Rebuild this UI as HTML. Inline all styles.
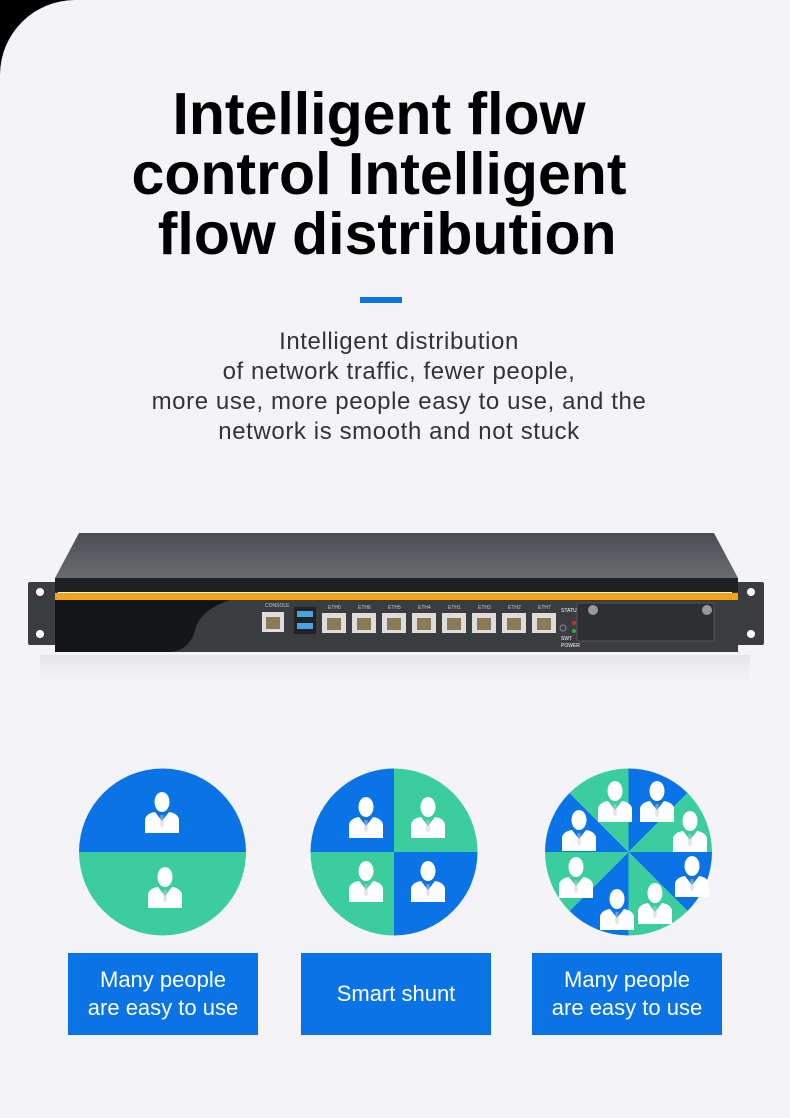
<!DOCTYPE html>
<html><head><meta charset="utf-8"><style>
html,body{margin:0;padding:0;background:#000;}
.page{position:relative;width:790px;height:1118px;background:#f4f4f8;border-top-left-radius:75px;overflow:hidden;font-family:"Liberation Sans",sans-serif;}
.title{position:absolute;left:0;width:758px;top:84px;text-align:center;font-size:59px;font-weight:bold;line-height:60px;color:#000;}
.bar{position:absolute;left:360px;top:297px;width:42px;height:6px;background:#0a74e6;}
.para{position:absolute;left:0;width:798px;top:327px;text-align:center;font-size:24px;letter-spacing:0.6px;line-height:30px;color:#333;}
.btn{position:absolute;top:953px;width:190px;height:82px;background:#0a74e6;color:#fff;font-size:22px;line-height:28px;display:flex;align-items:center;justify-content:center;text-align:center;}
</style></head><body><div class="page">
<div class="title">Intelligent flow<br>control Intelligent<br>&nbsp;flow distribution</div>
<div class="bar"></div>
<div class="para">Intelligent distribution<br>of network traffic, fewer people,<br>more use, more people easy to use, and the<br>network is smooth and not stuck</div>

<svg width="790" height="1118" style="position:absolute;left:0;top:0">
<defs>
<linearGradient id="top" x1="0" y1="0" x2="0" y2="1"><stop offset="0" stop-color="#4a4d52"/><stop offset="1" stop-color="#6a6d70"/></linearGradient>
<linearGradient id="refl" x1="0" y1="0" x2="0" y2="1"><stop offset="0" stop-color="#d4d4d8" stop-opacity="0.5"/><stop offset="1" stop-color="#f4f4f8" stop-opacity="0"/></linearGradient>
<g id="p"><ellipse cx="17" cy="11" rx="7.5" ry="10" fill="#fff"/><path d="M0 42 L0 28 Q2 22 10 21 L17 30 L24 21 Q32 22 34 28 L34 42 Z" fill="#fff"/><path d="M15.5 24 L18.5 24 L19 34 L17 37 L15 34 Z" fill="#ccc" opacity="0.5"/></g>
</defs>
<rect x="40" y="655" width="710" height="35" fill="url(#refl)"/>
<rect x="28" y="582" width="30" height="63" rx="2" fill="#3a3c40"/>
<rect x="732" y="582" width="32" height="63" rx="2" fill="#3a3c40"/>
<circle cx="40" cy="592" r="4" fill="#fff"/><circle cx="40" cy="634" r="4" fill="#fff"/>
<circle cx="751" cy="592" r="4" fill="#fff"/><circle cx="751" cy="634" r="4" fill="#fff"/>
<path d="M79 533 L714 533 L738 578 L55 578 Z" fill="url(#top)"/>
<rect x="55" y="578" width="683" height="14" fill="#1f2023"/>
<rect x="55" y="593" width="683" height="7" fill="#f4a316"/>
<rect x="55" y="600" width="683" height="52" fill="#3a3c40"/>
<path d="M55 600 L230 600 Q200 610 195 630 Q190 650 170 652 L55 652 Z" fill="#141517"/>
<rect x="262" y="612" width="22" height="20" fill="#ddd"/><rect x="266" y="617" width="14" height="12" fill="#8a7a55"/>
<rect x="294" y="607" width="22" height="27" fill="#222"/><rect x="297" y="611" width="16" height="6" fill="#4aa3e0"/><rect x="297" y="623" width="16" height="6" fill="#4aa3e0"/>
<g fill="#ddd">
<rect x="322" y="613" width="24" height="20"/><rect x="352" y="613" width="24" height="20"/><rect x="382" y="613" width="24" height="20"/><rect x="412" y="613" width="24" height="20"/><rect x="442" y="613" width="24" height="20"/><rect x="472" y="613" width="24" height="20"/><rect x="502" y="613" width="24" height="20"/><rect x="532" y="613" width="24" height="20"/></g>
<g fill="#8a7a55">
<rect x="327" y="618" width="14" height="12"/><rect x="357" y="618" width="14" height="12"/><rect x="387" y="618" width="14" height="12"/><rect x="417" y="618" width="14" height="12"/><rect x="447" y="618" width="14" height="12"/><rect x="477" y="618" width="14" height="12"/><rect x="507" y="618" width="14" height="12"/><rect x="537" y="618" width="14" height="12"/></g>
<g font-size="5" fill="#ccc" font-family="Liberation Sans"><text x="265" y="607">CONSOLE</text><text x="328" y="609">ETH0</text><text x="358" y="609">ETH6</text><text x="388" y="609">ETH5</text><text x="418" y="609">ETH4</text><text x="448" y="609">ETH1</text><text x="478" y="609">ETH3</text><text x="508" y="609">ETH2</text><text x="538" y="609">ETH7</text><text x="561" y="612" fill="#fff">STATUS</text><text x="561" y="640" fill="#fff">SWT</text><text x="561" y="647" fill="#fff">POWER</text></g>
<circle cx="563" cy="628" r="3" fill="none" stroke="#888"/><circle cx="574" cy="623" r="2" fill="#c33"/><circle cx="574" cy="631" r="2" fill="#3a3"/>
<rect x="577" y="603" width="137" height="38" fill="#2d2f33" stroke="#555"/>
<circle cx="593" cy="610" r="5" fill="#999"/><circle cx="707" cy="610" r="5" fill="#999"/>
<path d="M79 852 A83.5 83.5 0 0 1 246 852 Z" fill="#0a74e6"/>
<path d="M79 852 A83.5 83.5 0 0 0 246 852 Z" fill="#3ccd9e"/>
<use href="#p" x="145" y="791"/><use href="#p" x="148" y="866"/>
<g transform="translate(394,852)">
<path d="M0 0 L-83.5 0 A83.5 83.5 0 0 1 0 -83.5 Z" fill="#0a74e6"/>
<path d="M0 0 L0 -83.5 A83.5 83.5 0 0 1 83.5 0 Z" fill="#3ccd9e"/>
<path d="M0 0 L83.5 0 A83.5 83.5 0 0 1 0 83.5 Z" fill="#0a74e6"/>
<path d="M0 0 L0 83.5 A83.5 83.5 0 0 1 -83.5 0 Z" fill="#3ccd9e"/>
</g>
<use href="#p" x="349" y="796"/><use href="#p" x="411" y="796"/><use href="#p" x="349" y="860"/><use href="#p" x="411" y="860"/>
<g transform="translate(628.5,852)">
<path d="M0 0 L0 -83.5 A83.5 83.5 0 0 1 59 -59 Z" fill="#0a74e6"/>
<path d="M0 0 L59 -59 A83.5 83.5 0 0 1 83.5 0 Z" fill="#3ccd9e"/>
<path d="M0 0 L83.5 0 A83.5 83.5 0 0 1 59 59 Z" fill="#0a74e6"/>
<path d="M0 0 L59 59 A83.5 83.5 0 0 1 0 83.5 Z" fill="#3ccd9e"/>
<path d="M0 0 L0 83.5 A83.5 83.5 0 0 1 -59 59 Z" fill="#0a74e6"/>
<path d="M0 0 L-59 59 A83.5 83.5 0 0 1 -83.5 0 Z" fill="#3ccd9e"/>
<path d="M0 0 L-83.5 0 A83.5 83.5 0 0 1 -59 -59 Z" fill="#0a74e6"/>
<path d="M0 0 L-59 -59 A83.5 83.5 0 0 1 0 -83.5 Z" fill="#3ccd9e"/>
</g>
<use href="#p" x="598" y="780"/><use href="#p" x="640" y="780"/><use href="#p" x="562" y="809"/><use href="#p" x="673" y="810"/><use href="#p" x="559" y="856"/><use href="#p" x="675" y="855"/><use href="#p" x="600" y="888"/><use href="#p" x="638" y="882"/>
</svg>

<div class="btn" style="left:68px">Many people<br>are easy to use</div>
<div class="btn" style="left:301px">Smart shunt</div>
<div class="btn" style="left:532px">Many people<br>are easy to use</div>
</div></body></html>
